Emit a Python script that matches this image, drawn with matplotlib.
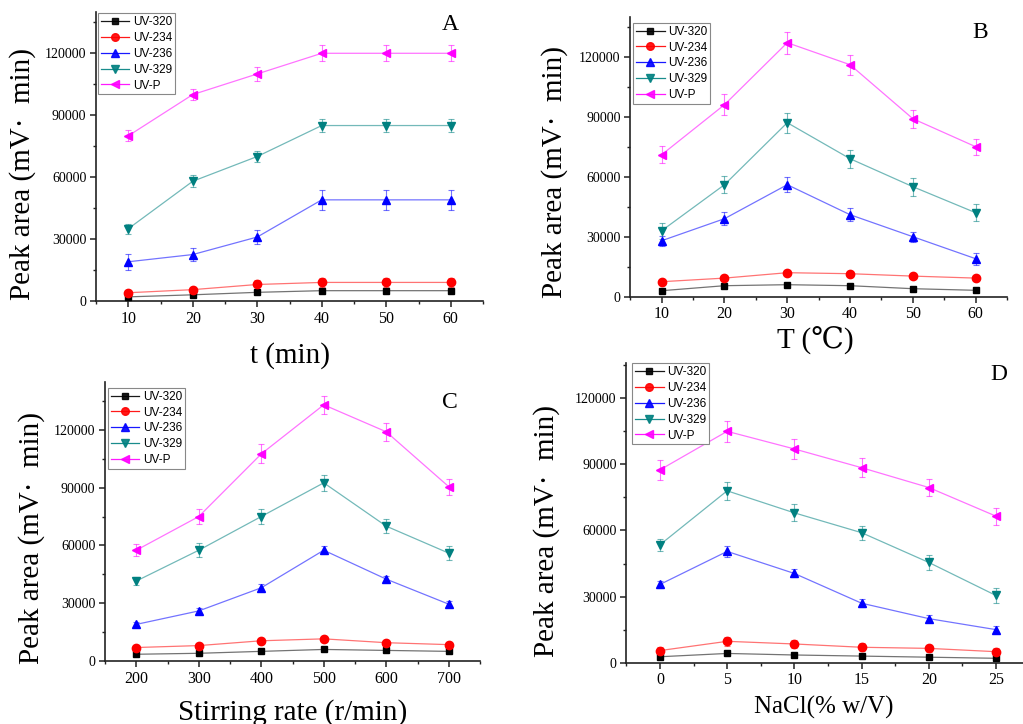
import matplotlib
matplotlib.use('Agg')
import matplotlib.pyplot as plt
from matplotlib.ticker import MultipleLocator

# ---------------- data ----------------
SERIES = ['UV-320', 'UV-234', 'UV-236', 'UV-329', 'UV-P']

# Panel A: extraction time
A_X = [10, 20, 30, 40, 50, 60]
A_UV320 = [2000, 3000, 4200, 5000, 5000, 5000]
A_UV234 = [4000, 5500, 8000, 9000, 9000, 9000]
A_UV236 = [19000, 22500, 31000, 49000, 49000, 49000]
A_UV329 = [35000, 58000, 70000, 85000, 85000, 85000]
A_UVP = [80000, 100000, 110000, 120000, 120000, 120000]
A_ERR320 = [800, 800, 900, 1000, 1000, 1000]
A_ERR234 = [1500, 1500, 2000, 2000, 2000, 2000]
A_ERR236 = [3800, 3000, 3400, 4800, 4800, 4800]
A_ERR329 = [2400, 2800, 2800, 3200, 3200, 3200]
A_ERRP = [2600, 2800, 3400, 3900, 3900, 3900]

# Panel B: temperature
B_X = [10, 20, 30, 40, 50, 60]
B_UV320 = [3000, 5500, 6000, 5500, 4000, 3200]
B_UV234 = [7500, 9300, 12000, 11500, 10300, 9300]
B_UV236 = [28000, 39000, 56000, 41000, 30000, 19000]
B_UV329 = [33000, 56000, 87000, 69000, 55000, 42000]
B_UVP = [71000, 96000, 127000, 116000, 89000, 75000]
B_ERR320 = [800, 800, 800, 800, 800, 800]
B_ERR234 = [1200, 1200, 1200, 1200, 1200, 1200]
B_ERR236 = [2500, 3200, 3700, 3300, 2500, 3000]
B_ERR329 = [3900, 4200, 5000, 4400, 4400, 4200]
B_ERRP = [4200, 5300, 5500, 5100, 4400, 4000]

# Panel C: stirring rate
C_X = [200, 300, 400, 500, 600, 700]
C_UV320 = [3500, 4000, 5000, 6000, 5500, 5000]
C_UV234 = [7000, 8000, 10500, 11500, 9500, 8500]
C_UV236 = [19000, 26000, 38000, 57500, 42500, 29500]
C_UV329 = [41500, 57500, 75000, 92500, 70000, 56000]
C_UVP = [57500, 75000, 107500, 133000, 119000, 90500]
C_ERR320 = [700, 700, 700, 700, 700, 700]
C_ERR234 = [1200, 1200, 1500, 1500, 1200, 1200]
C_ERR236 = [1500, 1500, 1800, 2000, 1500, 1500]
C_ERR329 = [2200, 3600, 3900, 4100, 3700, 3500]
C_ERRP = [3000, 3700, 4900, 4700, 4800, 4100]

# Panel D: NaCl
D_X = [0, 5, 10, 15, 20, 25]
D_UV320 = [2700, 4200, 3500, 3000, 2500, 2000]
D_UV234 = [5500, 9700, 8500, 7000, 6500, 5000]
D_UV236 = [35500, 50500, 40500, 27000, 20000, 15000]
D_UV329 = [53500, 78000, 68000, 59000, 45500, 30500]
D_UVP = [87500, 105000, 97000, 88500, 79500, 66500]
D_ERR320 = [700, 700, 700, 700, 700, 700]
D_ERR234 = [1500, 2100, 2000, 1800, 1600, 1500]
D_ERR236 = [1800, 2500, 1800, 1800, 1500, 1500]
D_ERR329 = [2600, 4000, 3900, 3200, 3400, 3300]
D_ERRP = [4400, 4700, 4400, 4200, 3900, 3900]

X_LABELS = ['t (min)', 'T (℃)', 'Stirring rate (r/min)', 'NaCl(% w/V)']
Y_LABEL = 'Peak area (mV·  min)'
PANEL_LETTERS = ['A', 'B', 'C', 'D']

# ---------------- style ----------------
COLORS = ['#000000', '#FF0000', '#0000FF', '#008080', '#FF00FF']
MARKERS = ['s', 'o', '^', 'v', '<']
MSIZES = [5, 6, 6, 6, 6]

plt.rcParams['font.family'] = ['Liberation Serif', 'DejaVu Serif', 'DejaVu Sans']

W, H = 1023, 724
fig = plt.figure(figsize=(W / 100, H / 100), dpi=100)


def pix_axes(left, top, right, bottom):
    return fig.add_axes([left / W, 1 - bottom / H, (right - left) / W, (bottom - top) / H])


panels = [
    dict(box=(96, 12, 483, 301), x=A_X, ys=[A_UV320, A_UV234, A_UV236, A_UV329, A_UVP],
         errs=[A_ERR320, A_ERR234, A_ERR236, A_ERR329, A_ERRP],
         xlim=(5, 65), ylim=(0, 140000), xmaj=10, xmin=5,
         ylab=(-0.189, 0.44), xlab=(0.5, -0.187), xfs=21, leg=(2, 1), letter=(450, 25)),
    dict(box=(630.3, 16.7, 1007, 296.7), x=B_X, ys=[B_UV320, B_UV234, B_UV236, B_UV329, B_UVP],
         errs=[B_ERR320, B_ERR234, B_ERR236, B_ERR329, B_ERRP],
         xlim=(5, 65), ylim=(0, 140000), xmaj=10, xmin=5,
         ylab=(-0.201, 0.444), xlab=(0.49, -0.158), xfs=21, leg=(3, 6), letter=(980, 33)),
    dict(box=(105, 381.7, 480, 661), x=C_X, ys=[C_UV320, C_UV234, C_UV236, C_UV329, C_UVP],
         errs=[C_ERR320, C_ERR234, C_ERR236, C_ERR329, C_ERRP],
         xlim=(150, 750), ylim=(0, 145000), xmaj=100, xmin=50,
         ylab=(-0.197, 0.442), xlab=(0.5, -0.183), xfs=21, leg=(3, 6), letter=(450, 402)),
    dict(box=(626.3, 363, 1029.6, 662.7), x=D_X, ys=[D_UV320, D_UV234, D_UV236, D_UV329, D_UVP],
         errs=[D_ERR320, D_ERR234, D_ERR236, D_ERR329, D_ERRP],
         xlim=(-2.5, 27.5), ylim=(0, 136000), xmaj=5, xmin=2.5,
         ylab=(-0.199, 0.439), xlab=(0.49, -0.148), xfs=18, leg=(6, 0), letter=(999, 375)),
]

for i, p in enumerate(panels):
    ax = pix_axes(*p['box'])
    handles = []
    for name, yv, ev, c, m, ms in zip(SERIES, p['ys'], p['errs'], COLORS, MARKERS, MSIZES):
        ax.errorbar(p['x'], yv, yerr=ev, fmt='none', ecolor=c, elinewidth=0.8,
                    capsize=2.5, capthick=0.8, alpha=0.55, zorder=2)
        ax.plot(p['x'], yv, color=c, lw=0.9, alpha=0.55, zorder=3)
        ax.plot(p['x'], yv, ls='none', marker=m, ms=ms, color=c, mec=c, zorder=4)
        hh, = ax.plot([], [], color=c, lw=0.9, marker=m, ms=ms - 0.5, mec=c)
        handles.append(hh)

    ax.set_xlim(*p['xlim'])
    ax.set_ylim(*p['ylim'])
    ax.xaxis.set_major_locator(MultipleLocator(p['xmaj']))
    ax.xaxis.set_minor_locator(MultipleLocator(p['xmin']))
    ax.yaxis.set_major_locator(MultipleLocator(30000))
    ax.yaxis.set_minor_locator(MultipleLocator(15000))
    ax.ticklabel_format(axis='y', style='plain', useOffset=False)
    for s in ['top', 'right']:
        ax.spines[s].set_visible(False)
    for s in ['left', 'bottom']:
        ax.spines[s].set_linewidth(1.2)
        ax.spines[s].set_color('#222222')
    ax.tick_params(which='major', direction='out', length=4, width=1.1, color='#222222', pad=3)
    ax.tick_params(axis='x', which='major', labelsize=11.5)
    ax.tick_params(axis='y', which='major', labelsize=10)
    ax.tick_params(which='minor', direction='out', length=2.5, width=1.0, color='#222222')
    ax.patch.set_alpha(0)

    ax.set_ylabel(Y_LABEL, fontsize=21)
    ax.yaxis.set_label_coords(*p['ylab'])
    ax.set_xlabel(X_LABELS[i], fontsize=p['xfs'])
    ax.xaxis.set_label_coords(*p['xlab'])
    ax.xaxis.label.set_va('center')
    ax.yaxis.label.set_va('center')

    bx, by = p['leg']
    axw = p['box'][2] - p['box'][0]
    axh = p['box'][3] - p['box'][1]
    leg = ax.legend(handles, SERIES, loc='upper left',
                    bbox_to_anchor=(bx / axw, 1 - by / axh), borderaxespad=0,
                    prop={'family': 'Liberation Sans', 'size': 8.5},
                    frameon=True, fancybox=False, edgecolor='#888888',
                    handlelength=2.4, handletextpad=0.3, labelspacing=0.33,
                    borderpad=0.25, framealpha=1)
    leg.get_frame().set_linewidth(0.8)
    for line in leg.get_lines():
        line.set_alpha(0.9)

    fig.text(p['letter'][0] / W, 1 - p['letter'][1] / H, PANEL_LETTERS[i],
             fontsize=17, ha='center', va='center')

fig.savefig('out.png', dpi=100)
